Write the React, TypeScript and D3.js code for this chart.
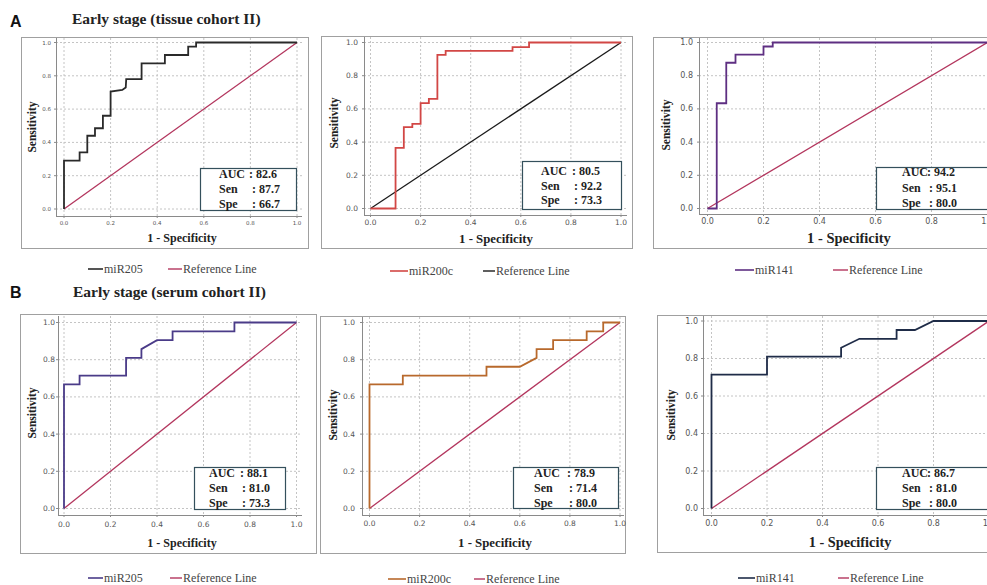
import React from "react";
import * as d3 from "d3";

// ---------- data ----------
const tickValues = [0, 0.2, 0.4, 0.6, 0.8, 1.0];
const rowLetters = ["A", "B"];
const rowTitles = ["Early stage (tissue cohort II)", "Early stage (serum cohort II)"];
const markerNames = ["miR205", "miR200c", "miR141", "miR205", "miR200c", "miR141"];
const aucValues = ["82.6", "80.5", "94.2", "88.1", "78.9", "86.7"];
const senValues = ["87.7", "92.2", "95.1", "81.0", "71.4", "81.0"];
const speValues = ["66.7", "73.3", "80.0", "73.3", "80.0", "80.0"];
const refLineName = "Reference Line";

// ROC curves (1 - specificity, sensitivity)
const tissueMiR205Fpr = [0, 0, 0.067, 0.067, 0.1, 0.1, 0.133, 0.133, 0.167, 0.167, 0.2, 0.2, 0.25, 0.265, 0.267, 0.333, 0.333, 0.433, 0.433, 0.533, 0.533, 0.567, 0.567, 1];
const tissueMiR205Tpr = [0, 0.29, 0.29, 0.34, 0.34, 0.44, 0.44, 0.485, 0.485, 0.56, 0.56, 0.705, 0.715, 0.73, 0.78, 0.78, 0.875, 0.875, 0.925, 0.925, 0.975, 0.975, 1, 1];

const tissueMiR200cFpr = [0, 0.1, 0.1, 0.133, 0.133, 0.167, 0.167, 0.2, 0.2, 0.233, 0.233, 0.267, 0.267, 0.3, 0.3, 0.567, 0.567, 0.633, 0.633, 1];
const tissueMiR200cTpr = [0, 0, 0.365, 0.365, 0.49, 0.49, 0.51, 0.51, 0.635, 0.635, 0.66, 0.66, 0.925, 0.925, 0.95, 0.95, 0.972, 0.972, 1, 1];

const tissueMiR141Fpr = [0, 0.033, 0.033, 0.067, 0.067, 0.1, 0.1, 0.2, 0.2, 0.233, 0.233, 1];
const tissueMiR141Tpr = [0, 0, 0.634, 0.634, 0.878, 0.878, 0.927, 0.927, 0.976, 0.976, 1, 1];

const serumMiR205Fpr = [0, 0, 0.067, 0.067, 0.267, 0.267, 0.333, 0.333, 0.4, 0.467, 0.467, 0.733, 0.733, 1];
const serumMiR205Tpr = [0, 0.667, 0.667, 0.714, 0.714, 0.81, 0.81, 0.857, 0.905, 0.905, 0.952, 0.952, 1, 1];

const serumMiR200cFpr = [0, 0, 0.133, 0.133, 0.467, 0.467, 0.6, 0.667, 0.667, 0.733, 0.733, 0.867, 0.867, 0.933, 0.933, 1];
const serumMiR200cTpr = [0, 0.667, 0.667, 0.714, 0.714, 0.762, 0.762, 0.81, 0.857, 0.857, 0.905, 0.905, 0.952, 0.952, 1, 1];

const serumMiR141Fpr = [0, 0, 0.2, 0.2, 0.467, 0.467, 0.533, 0.667, 0.667, 0.733, 0.8, 1];
const serumMiR141Tpr = [0, 0.714, 0.714, 0.81, 0.81, 0.857, 0.905, 0.905, 0.952, 0.952, 1, 1];

const refFpr = [0, 1];
const refTpr = [0, 1];

const curveFpr = [tissueMiR205Fpr, tissueMiR200cFpr, tissueMiR141Fpr, serumMiR205Fpr, serumMiR200cFpr, serumMiR141Fpr];
const curveTpr = [tissueMiR205Tpr, tissueMiR200cTpr, tissueMiR141Tpr, serumMiR205Tpr, serumMiR200cTpr, serumMiR141Tpr];

// ---------- styles / layout ----------
const curveColors = ["#2a2a2a", "#d24745", "#5e2f82", "#4a3b88", "#b8692c", "#1f2c48"];
const refColors = ["#b3365e", "#1a1a1a", "#b3365e", "#b3365e", "#b3365e", "#b3365e"];

type Layout = {
  frame: number[]; xr: number[]; yr: number[]; axisX: number; axisY: number; top: number; right: number;
  tickFont: number; yTickX: number; xTickY: number; xLabel: number[]; xLabelSize: number; yLabel: number[];
  box: number[]; labelDx: number; colonDx: number[]; base: number[]; legendY: number; leg: number[];
};

const layouts: Layout[] = [
  { frame: [21, 37, 287, 211], xr: [64, 297], yr: [209, 42.5], axisX: 56, axisY: 216, top: 38, right: 302,
    tickFont: 5.5, yTickX: 51, xTickY: 225, xLabel: [182, 242], xLabelSize: 12, yLabel: [32, 127],
    box: [200, 168, 96, 42], labelDx: 19, colonDx: [49, 52, 52], base: [9.5, 25, 40], legendY: 269, leg: [88, 103, 104, 168, 182, 183] },
  { frame: [321, 36, 311, 212], xr: [370.5, 621], yr: [208.5, 42.5], axisX: 364, axisY: 215, top: 37, right: 627,
    tickFont: 7.5, yTickX: 358, xTickY: 225, xLabel: [496, 243], xLabelSize: 12.8, yLabel: [334, 123],
    box: [522, 161, 99, 48], labelDx: 19, colonDx: [50, 52, 52], base: [13.5, 29, 43], legendY: 271, leg: [390, 408, 409, 483, 495, 496] },
  { frame: [653, 37, 400, 211], xr: [707.5, 987.5], yr: [208.5, 42.5], axisX: 699, axisY: 214, top: 38, right: 995,
    tickFont: 8, yTickX: 693, xTickY: 224, xLabel: [849, 243], xLabelSize: 14.5, yLabel: [666, 125],
    box: [876, 167, 130, 42], labelDx: 26, colonDx: [51, 53, 53], base: [9, 24.5, 39.5], legendY: 270, leg: [735, 754, 755, 833, 848, 849] },
  { frame: [20, 314, 296, 239], xr: [64, 296.5], yr: [508.5, 322.5], axisX: 58, axisY: 515, top: 316, right: 302,
    tickFont: 7.5, yTickX: 55, xTickY: 527, xLabel: [182, 547], xLabelSize: 12, yLabel: [32, 413],
    box: [194, 467, 91, 42], labelDx: 15, colonDx: [46, 48, 48], base: [9.5, 24.5, 39.5], legendY: 578, leg: [88, 103, 104, 170, 182, 183] },
  { frame: [320, 316, 305, 237], xr: [369.5, 620], yr: [508.5, 322.5], axisX: 362, axisY: 515, top: 317, right: 624,
    tickFont: 7.5, yTickX: 355, xTickY: 526, xLabel: [495, 547], xLabelSize: 12.8, yLabel: [333, 415],
    box: [513, 467, 105, 41], labelDx: 21, colonDx: [54, 56, 56], base: [9.5, 24.5, 39.5], legendY: 579, leg: [388, 406, 407, 474, 485, 486] },
  { frame: [657, 315, 400, 237], xr: [711.5, 989], yr: [508.5, 321], axisX: 703, axisY: 515, top: 316, right: 995,
    tickFont: 8, yTickX: 698, xTickY: 526, xLabel: [850, 547], xLabelSize: 14.3, yLabel: [671, 415],
    box: [876, 467, 130, 42], labelDx: 26, colonDx: [51, 53, 53], base: [9.5, 24.5, 39.5], legendY: 578, leg: [738, 755, 756, 838, 849, 850] },
];

const serif = "'Liberation Serif', 'Times New Roman', serif";
const sans = "'DejaVu Sans', sans-serif";

function Panel({ i }: { i: number }) {
  const L = layouts[i];
  const x = d3.scaleLinear().domain([0, 1]).range(L.xr);
  const y = d3.scaleLinear().domain([0, 1]).range(L.yr);
  const line = d3.line<number>().x((d) => x(curveFpr[i][d])).y((d) => y(curveTpr[i][d]));
  const refLine = d3.line<number>().x((d) => x(refFpr[d])).y((d) => y(refTpr[d]));
  const idx = d3.range(curveFpr[i].length);
  const [bx, by, bw, bh] = L.box;
  const labels = ["AUC", "Sen", "Spe"];
  const vals = [aucValues[i], senValues[i], speValues[i]];
  const fmt = d3.format(".1f");
  return (
    <g>
      <rect x={L.frame[0] + 0.5} y={L.frame[1] + 0.5} width={L.frame[2]} height={L.frame[3]} fill="white" stroke="#a0a0a0" strokeWidth={1} />
      {tickValues.map((t) => (
        <line key={"gx" + t} x1={x(t)} x2={x(t)} y1={L.top} y2={L.axisY} stroke="#c4c4c4" strokeDasharray="2,2" />
      ))}
      {tickValues.map((t) => (
        <line key={"gy" + t} x1={L.axisX} x2={L.right} y1={y(t)} y2={y(t)} stroke="#c4c4c4" strokeDasharray="2,2" />
      ))}
      <line x1={L.axisX + 0.5} x2={L.axisX + 0.5} y1={L.top} y2={L.axisY} stroke="#8a8a8a" />
      <line x1={L.axisX} x2={L.right} y1={L.axisY + 0.5} y2={L.axisY + 0.5} stroke="#8a8a8a" />
      {tickValues.map((t) => (
        <g key={"ty" + t}>
          <line x1={L.axisX - 2} x2={L.axisX} y1={y(t)} y2={y(t)} stroke="#8a8a8a" />
          <text x={L.yTickX} y={y(t)} fontSize={L.tickFont} fontFamily={sans} fill="#555" textAnchor="end" dominantBaseline="central">{fmt(t)}</text>
        </g>
      ))}
      {tickValues.map((t) => (
        <g key={"tx" + t}>
          <line x1={x(t)} x2={x(t)} y1={L.axisY} y2={L.axisY + 2} stroke="#8a8a8a" />
          <text x={x(t)} y={L.xTickY} fontSize={L.tickFont} fontFamily={sans} fill="#555" textAnchor="middle">{fmt(t)}</text>
        </g>
      ))}
      <path d={refLine([0, 1]) || ""} fill="none" stroke={refColors[i]} strokeWidth={1.3} />
      <path d={line(idx) || ""} fill="none" stroke={curveColors[i]} strokeWidth={1.8} />
      <rect x={bx + 0.5} y={by + 0.5} width={bw} height={bh} fill="white" stroke="#34505c" strokeWidth={1.2} />
      {labels.map((lab, k) => (
        <g key={lab}>
          <text x={bx + L.labelDx} y={by + L.base[k]} fontFamily={serif} fontWeight="bold" fontSize={12} fill="#222">{lab}</text>
          <text x={bx + L.colonDx[k]} y={by + L.base[k]} fontFamily={serif} fontWeight="bold" fontSize={12} fill="#222">{": " + vals[k]}</text>
        </g>
      ))}
      <text x={L.xLabel[0]} y={L.xLabel[1]} fontFamily={serif} fontWeight="bold" fontSize={L.xLabelSize} textAnchor="middle" fill="#222">1 - Specificity</text>
      <text transform={`translate(${L.yLabel[0]},${L.yLabel[1]}) rotate(-90)`} fontFamily={serif} fontWeight="bold" fontSize={11.5} textAnchor="middle" dominantBaseline="central" fill="#222">Sensitivity</text>
      <line x1={L.leg[0]} x2={L.leg[1]} y1={L.legendY} y2={L.legendY} stroke={curveColors[i]} strokeWidth={1.6} />
      <text x={L.leg[2]} y={L.legendY + 4} fontFamily={serif} fontSize={12} fill="#444">{markerNames[i]}</text>
      <line x1={L.leg[3]} x2={L.leg[4]} y1={L.legendY} y2={L.legendY} stroke={refColors[i]} strokeWidth={1.4} />
      <text x={L.leg[5]} y={L.legendY + 4} fontFamily={serif} fontSize={12} fill="#444">{refLineName}</text>
    </g>
  );
}

export default function App() {
  const letterPos = [[10, 27], [10, 298]];
  const titlePos = [[72, 23.5], [73, 297]];
  return (
    <svg width={987} height={585} style={{ position: "absolute", left: 0, top: 0, background: "white" }}>
      <rect x={0} y={0} width={987} height={585} fill="white" />
      {rowLetters.map((l, r) => (
        <g key={l}>
          <text x={letterPos[r][0]} y={letterPos[r][1]} fontFamily="'Liberation Sans', Arial, sans-serif" fontWeight="bold" fontSize={16} fill="#111">{l}</text>
          <text x={titlePos[r][0]} y={titlePos[r][1]} fontFamily={serif} fontWeight="bold" fontSize={15.5} fill="#222">{rowTitles[r]}</text>
        </g>
      ))}
      {layouts.map((_, i) => (
        <Panel key={i} i={i} />
      ))}
    </svg>
  );
}
